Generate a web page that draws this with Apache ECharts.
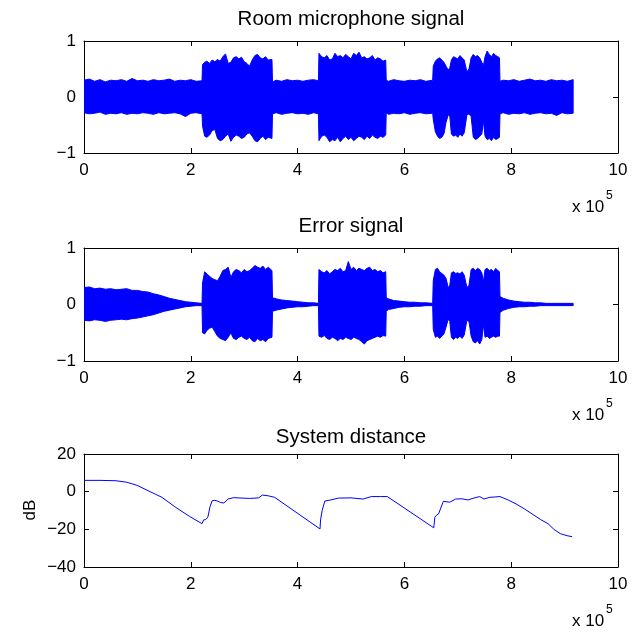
<!DOCTYPE html>
<html><head><meta charset="utf-8">
<script src="https://cdn.jsdelivr.net/npm/echarts@6/dist/echarts.min.js"></script>
<style>html,body{margin:0;padding:0;background:#fff}#c{width:632px;height:632px}</style>
</head><body><div id="c"></div>
<script>
// ---- data (x in units of 1e5 samples, as on the axes) ----
const titles = ['Room microphone signal', 'Error signal', 'System distance'];
const xTickLabels = [0, 2, 4, 6, 8, 10];

const sigX = [
  0,0.1,0.2,0.3,0.4,0.5,0.6,0.7,0.8,0.9,1.0,1.1,1.2,1.3,1.4,1.5,1.6,1.7,1.8,1.9,2.0,2.1,2.21,
  2.22,2.26,2.3,2.35,2.4,2.45,2.5,2.55,2.6,2.65,2.7,2.75,2.8,2.85,2.9,2.95,3.0,3.05,3.1,3.15,3.2,3.25,3.3,3.35,3.4,3.45,3.52,
  3.53,3.6,3.7,3.8,3.9,4.0,4.1,4.2,4.3,4.39,
  4.40,4.45,4.50,4.55,4.60,4.65,4.70,4.75,4.80,4.85,4.90,4.95,5.00,5.05,5.10,5.15,5.20,5.25,5.30,5.35,5.40,5.45,5.50,5.55,5.60,5.65,
  5.66,5.7,5.8,5.9,6.0,6.1,6.2,6.3,6.4,6.53,
  6.54,6.58,6.62,6.66,6.70,6.74,6.78,6.82,6.85,6.88,6.92,6.96,7.00,7.04,7.08,7.12,7.17,7.21,7.25,7.29,7.33,7.37,7.41,7.45,7.48,7.51,7.55,7.59,7.63,7.67,7.71,7.75,7.78,
  7.79,7.85,7.95,8.05,8.15,8.25,8.35,8.45,8.55,8.65,8.75,8.85,8.95,9.05,9.16
];
const roomUp = [
  0.30,0.32,0.28,0.31,0.27,0.30,0.29,0.31,0.28,0.33,0.29,0.30,0.28,0.31,0.29,0.30,0.32,0.28,0.30,0.29,0.31,0.28,0.29,
  0.58,0.62,0.64,0.60,0.66,0.63,0.67,0.64,0.72,0.77,0.60,0.62,0.70,0.72,0.68,0.71,0.63,0.60,0.55,0.66,0.74,0.76,0.70,0.68,0.72,0.66,0.67,
  0.27,0.30,0.28,0.31,0.29,0.30,0.28,0.30,0.31,0.29,
  0.78,0.72,0.70,0.74,0.66,0.68,0.78,0.72,0.74,0.70,0.76,0.72,0.68,0.78,0.74,0.80,0.70,0.72,0.68,0.70,0.74,0.66,0.70,0.68,0.64,0.66,
  0.30,0.28,0.31,0.29,0.28,0.30,0.29,0.31,0.28,0.30,
  0.55,0.64,0.68,0.70,0.66,0.62,0.55,0.48,0.52,0.66,0.72,0.70,0.68,0.74,0.70,0.66,0.45,0.50,0.70,0.76,0.72,0.74,0.70,0.62,0.56,0.72,0.82,0.76,0.72,0.78,0.74,0.72,0.70,
  0.28,0.30,0.29,0.31,0.28,0.30,0.32,0.29,0.30,0.28,0.31,0.29,0.30,0.28,0.31
];
const roomLow = [
  -0.28,-0.30,-0.29,-0.27,-0.31,-0.29,-0.30,-0.28,-0.31,-0.29,-0.30,-0.28,-0.29,-0.31,-0.28,-0.30,-0.29,-0.28,-0.30,-0.35,-0.29,-0.28,-0.30,
  -0.52,-0.70,-0.72,-0.68,-0.60,-0.58,-0.74,-0.78,-0.76,-0.70,-0.66,-0.79,-0.72,-0.68,-0.70,-0.74,-0.72,-0.66,-0.64,-0.70,-0.78,-0.80,-0.74,-0.70,-0.76,-0.72,-0.74,
  -0.30,-0.28,-0.31,-0.29,-0.28,-0.30,-0.29,-0.31,-0.28,-0.30,
  -0.78,-0.70,-0.68,-0.72,-0.80,-0.76,-0.78,-0.72,-0.80,-0.74,-0.70,-0.76,-0.72,-0.78,-0.74,-0.70,-0.72,-0.76,-0.70,-0.74,-0.68,-0.72,-0.74,-0.70,-0.72,-0.68,
  -0.28,-0.31,-0.29,-0.30,-0.28,-0.31,-0.29,-0.28,-0.30,-0.29,
  -0.40,-0.62,-0.70,-0.74,-0.72,-0.66,-0.45,-0.32,-0.34,-0.66,-0.70,-0.68,-0.72,-0.66,-0.70,-0.64,-0.32,-0.30,-0.35,-0.72,-0.76,-0.74,-0.70,-0.66,-0.42,-0.70,-0.76,-0.74,-0.78,-0.72,-0.76,-0.74,-0.72,
  -0.30,-0.28,-0.31,-0.29,-0.30,-0.28,-0.31,-0.29,-0.28,-0.30,-0.29,-0.33,-0.28,-0.30,-0.29
];
const errUp = [
  0.30,0.31,0.28,0.29,0.27,0.28,0.26,0.27,0.28,0.25,0.25,0.23,0.22,0.19,0.17,0.14,0.11,0.09,0.07,0.05,0.04,0.03,0.02,
  0.38,0.58,0.54,0.50,0.46,0.44,0.42,0.50,0.60,0.62,0.66,0.48,0.58,0.62,0.60,0.56,0.62,0.58,0.60,0.64,0.69,0.66,0.64,0.68,0.62,0.66,0.60,
  0.12,0.10,0.08,0.07,0.06,0.05,0.04,0.03,0.03,0.02,
  0.62,0.58,0.56,0.60,0.54,0.58,0.62,0.60,0.64,0.58,0.60,0.76,0.62,0.66,0.60,0.64,0.62,0.60,0.64,0.66,0.60,0.62,0.58,0.60,0.56,0.58,
  0.12,0.10,0.07,0.06,0.05,0.04,0.04,0.03,0.03,0.02,
  0.42,0.62,0.64,0.58,0.55,0.52,0.46,0.30,0.34,0.56,0.58,0.55,0.56,0.54,0.58,0.52,0.30,0.34,0.62,0.64,0.60,0.64,0.62,0.56,0.40,0.62,0.64,0.60,0.62,0.58,0.64,0.60,0.58,
  0.14,0.11,0.08,0.06,0.05,0.04,0.04,0.03,0.03,0.02,0.02,0.02,0.02,0.02,0.02
];
const errLow = [
  -0.28,-0.29,-0.27,-0.28,-0.30,-0.28,-0.27,-0.26,-0.27,-0.25,-0.24,-0.22,-0.20,-0.18,-0.15,-0.12,-0.10,-0.08,-0.06,-0.04,-0.03,-0.02,-0.02,
  -0.50,-0.52,-0.46,-0.42,-0.40,-0.48,-0.56,-0.60,-0.62,-0.64,-0.58,-0.50,-0.60,-0.62,-0.58,-0.56,-0.60,-0.62,-0.58,-0.64,-0.66,-0.60,-0.64,-0.62,-0.66,-0.60,-0.58,
  -0.12,-0.10,-0.08,-0.06,-0.05,-0.04,-0.04,-0.03,-0.02,-0.02,
  -0.56,-0.58,-0.55,-0.60,-0.62,-0.58,-0.60,-0.64,-0.60,-0.62,-0.58,-0.60,-0.62,-0.58,-0.60,-0.62,-0.66,-0.70,-0.64,-0.62,-0.60,-0.58,-0.56,-0.58,-0.55,-0.56,
  -0.12,-0.09,-0.07,-0.05,-0.04,-0.04,-0.03,-0.03,-0.02,-0.02,
  -0.44,-0.58,-0.56,-0.60,-0.56,-0.52,-0.40,-0.26,-0.30,-0.58,-0.62,-0.58,-0.60,-0.56,-0.60,-0.54,-0.28,-0.30,-0.56,-0.66,-0.68,-0.64,-0.70,-0.62,-0.36,-0.58,-0.56,-0.60,-0.58,-0.56,-0.58,-0.56,-0.56,
  -0.14,-0.10,-0.07,-0.05,-0.04,-0.04,-0.03,-0.03,-0.02,-0.02,-0.02,-0.02,-0.02,-0.02,-0.02
];
// system distance in dB: [x (1e5 samples), dB]
const distance = [
  [0,6.0],[0.3,6.0],[0.6,5.8],[0.8,5.0],[1.0,3.3],[1.2,0.5],[1.46,-3.0],[1.7,-8.0],[1.98,-13.2],[2.21,-17.0],
  [2.24,-15.0],[2.28,-14.8],[2.32,-13.5],[2.36,-8.0],[2.40,-4.8],[2.45,-4.6],[2.5,-5.0],[2.56,-5.8],[2.62,-6.0],
  [2.7,-3.9],[2.8,-3.2],[2.96,-3.4],[3.1,-3.6],[3.27,-3.3],[3.34,-1.8],[3.45,-2.2],[3.57,-3.0],
  [4.42,-19.8],[4.43,-15.0],[4.46,-10.0],[4.51,-5.0],[4.62,-4.4],[4.77,-3.4],[5.0,-3.3],[5.23,-3.9],[5.38,-2.6],[5.55,-2.6],[5.68,-2.6],
  [6.55,-19.2],[6.57,-13.6],[6.6,-12.5],[6.64,-11.8],[6.73,-5.1],[6.85,-5.6],[6.96,-3.9],[7.08,-3.8],[7.19,-4.4],[7.3,-3.4],
  [7.41,-2.6],[7.49,-3.9],[7.6,-3.0],[7.7,-2.8],[7.79,-2.6],[7.95,-4.5],[8.09,-6.5],[8.25,-9.2],[8.39,-11.8],[8.55,-14.8],
  [8.69,-17.0],[8.8,-20.0],[8.92,-22.3],[9.05,-23.4],[9.14,-23.9]
];
const yRanges = [[-1, 1, 1], [-1, 1, 1], [-40, 20, 20]];

// ---- layout ----
const FONT = 'Liberation Sans, Arial, Helvetica, sans-serif';
const BLUE = '#0000ff';
const grids = [
  {left: 84, right: 14, top: 41, height: 112},
  {left: 84, right: 14, top: 248, height: 113},
  {left: 84, right: 14, top: 454, height: 113}
];
const minus = v => String(v).replace('-', '\u2212');

const xAxis = [], yAxis = [], series = [];
grids.forEach((g, k) => {
  const base = {
    gridIndex: k, type: 'value', min: 0, max: 10, interval: 2,
    axisLine: {show: true, onZero: false, lineStyle: {color: '#000', width: 1}},
    axisTick: {show: true, inside: true, length: 5, lineStyle: {color: '#000', width: 1}},
    splitLine: {show: false}
  };
  xAxis.push(Object.assign({}, base, {position: 'bottom',
    axisLabel: {color: '#000', fontSize: 17, fontFamily: FONT, margin: 9, formatter: v => String(v)}}));
  xAxis.push(Object.assign({}, base, {position: 'top', axisLabel: {show: false}}));
  const [mn, mx, iv] = yRanges[k];
  const ybase = Object.assign({}, base, {min: mn, max: mx, interval: iv});
  yAxis.push(Object.assign({}, ybase, {position: 'left',
    axisLabel: {color: '#000', fontSize: 17, fontFamily: FONT, margin: 8, formatter: minus}}));
  yAxis.push(Object.assign({}, ybase, {position: 'right', axisLabel: {show: false}}));
});

// dense signals drawn as the filled band between their lower and upper envelopes
[[roomLow, roomUp], [errLow, errUp]].forEach(([lo, hi], k) => {
  const data = sigX.map((x, j) => [x, lo[j], hi[j]]);
  series.push({
    type: 'custom', xAxisIndex: 2 * k, yAxisIndex: 2 * k, data, clip: true, silent: true, animation: false,
    encode: {x: 0, y: [1, 2]},
    renderItem: (params, api) => {
      if (params.dataIndex !== 0) return null;
      const top = data.map(d => api.coord([d[0], d[2]]));
      const bot = data.map(d => api.coord([d[0], d[1]])).reverse();
      return {type: 'polygon', shape: {points: top.concat(bot)},
        style: {fill: BLUE, stroke: BLUE, lineWidth: 1}};
    }
  });
});
series.push({type: 'line', xAxisIndex: 4, yAxisIndex: 4, data: distance, symbol: 'none', animation: false,
  lineStyle: {color: BLUE, width: 1}});

const txt = (text, x, y, size, align, extra) => Object.assign({type: 'text', x, y, silent: true,
  style: {text, fill: '#000', font: size + 'px ' + FONT, textAlign: align, textVerticalAlign: 'middle',
    align: align, verticalAlign: 'middle'}}, extra || {});
const graphic = [];
const titleY = [19, 226, 437];
titles.forEach((t, k) => graphic.push(txt(t, 351, titleY[k], 20.5, 'center')));
grids.forEach((g) => {
  const yb = g.top + g.height;
  graphic.push(txt('x 10', 572, yb + 54, 17, 'left'));
  graphic.push(txt('5', 606, yb + 43, 12, 'left'));
});
graphic.push(txt('dB', 30, 510, 17, 'center', {rotation: Math.PI / 2}));

const chart = echarts.init(document.getElementById('c'), null, {renderer: 'canvas'});
chart.setOption({animation: false, backgroundColor: '#fff', grid: grids, xAxis, yAxis, series, graphic});
</script>
</body></html>
